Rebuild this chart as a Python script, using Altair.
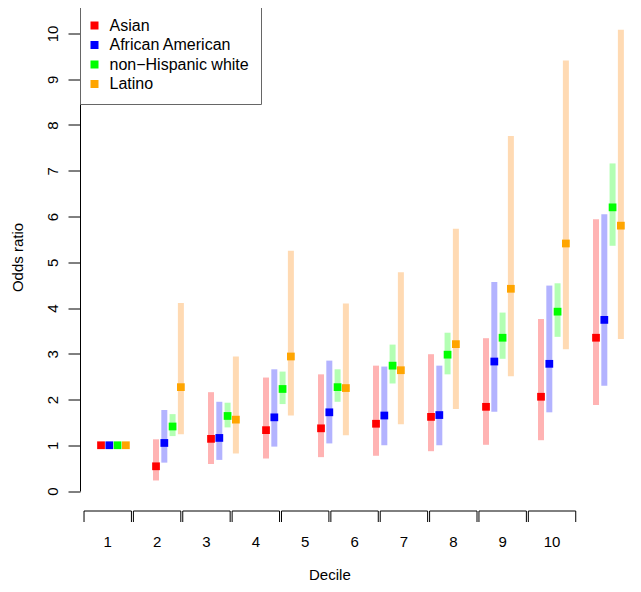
import altair as alt
import pandas as pd

deciles = list(range(1, 11))
groups = ["Asian", "African American", "non−Hispanic white", "Latino"]
point_colors = ["#FF0000", "#0000FF", "#00FF00", "#FFA500"]
band_colors = ["#FFB3B3", "#B3B3FF", "#B3FFB3", "#FFDAB3"]

asian_or = [1.00, 0.54, 1.14, 1.33, 1.37, 1.47, 1.62, 1.84, 2.06, 3.35]
asian_lo = [1.00, 0.23, 0.59, 0.71, 0.74, 0.77, 0.87, 1.01, 1.11, 1.88]
asian_hi = [1.00, 1.13, 2.16, 2.48, 2.55, 2.74, 2.99, 3.34, 3.76, 5.94]

afam_or = [1.00, 1.05, 1.16, 1.61, 1.72, 1.65, 1.66, 2.83, 2.78, 3.74]
afam_lo = [1.00, 0.62, 0.68, 0.97, 1.04, 1.00, 1.00, 1.73, 1.72, 2.30]
afam_hi = [1.00, 1.77, 1.95, 2.66, 2.85, 2.72, 2.74, 4.57, 4.49, 6.05]

white_or = [1.00, 1.41, 1.64, 2.23, 2.27, 2.74, 2.98, 3.35, 3.92, 6.20]
white_lo = [1.00, 1.20, 1.39, 1.90, 1.95, 2.35, 2.55, 2.89, 3.37, 5.36]
white_hi = [1.00, 1.68, 1.93, 2.61, 2.66, 3.20, 3.46, 3.90, 4.54, 7.16]

latino_or = [1.00, 2.27, 1.56, 2.94, 2.25, 2.64, 3.21, 4.42, 5.41, 5.80]
latino_lo = [1.00, 1.24, 0.82, 1.65, 1.22, 1.46, 1.79, 2.51, 3.10, 3.32]
latino_hi = [1.00, 4.11, 2.94, 5.25, 4.10, 4.78, 5.73, 7.76, 9.41, 10.08]

group_offset = [-0.226, -0.075, 0.075, 0.226]

y_ticks = list(range(0, 11))
x_labels = [str(d) for d in deciles]

bracket_start = 0.465
bracket_step = 0.8976
bracket_width = 0.862

FONT = "Liberation Sans"

rows = []
series = [
    (asian_or, asian_lo, asian_hi),
    (afam_or, afam_lo, afam_hi),
    (white_or, white_lo, white_hi),
    (latino_or, latino_lo, latino_hi),
]
for gi, (g, (ors, los, his)) in enumerate(zip(groups, series)):
    for d, o, lo, hi in zip(deciles, ors, los, his):
        rows.append(dict(decile=d, group=g, odds=o, lo=lo, hi=hi,
                         xpos=d + group_offset[gi], order=gi))
df = pd.DataFrame(rows)

lefts = [bracket_start + (d - 1) * bracket_step for d in deciles]
rights = [l + bracket_width for l in lefts]
br = pd.DataFrame({
    "label": x_labels,
    "left": lefts,
    "right": rights,
    "mid": [(l + r) / 2 for l, r in zip(lefts, rights)],
})
title_df = pd.DataFrame({"t": ["Decile"], "x": [(lefts[0] + rights[-1]) / 2]})

xscale = alt.Scale(domain=[0.3918, 10.301], nice=False, zero=False)
yscale = alt.Scale(domain=[0, 10], nice=False, zero=False)

yaxis = alt.Axis(
    values=y_ticks, labelAngle=270, labelAlign="center", labelBaseline="alphabetic",
    labelPadding=11, tickSize=12, tickColor="black", domainColor="black",
    labelColor="black", labelFontSize=15, labelFont=FONT, grid=False,
    labelFlush=False, labelOverlap=False,
    title="Odds ratio", titleFont=FONT, titleFontSize=15, titleFontWeight="normal",
    titleColor="black", titleAngle=270, titleX=-58, titleY=223.5,
    titleAlign="center", titleBaseline="alphabetic",
)

bands = alt.Chart(df).mark_rule(strokeWidth=6, strokeCap="butt").encode(
    x=alt.X("xpos:Q", scale=xscale, axis=None),
    y=alt.Y("lo:Q", scale=yscale, axis=yaxis),
    y2="hi:Q",
    color=alt.Color("group:N", scale=alt.Scale(domain=groups, range=band_colors), legend=None),
)

points = alt.Chart(df).mark_square(size=60, opacity=1).encode(
    x=alt.X("xpos:Q", scale=xscale, axis=None),
    y=alt.Y("odds:Q", scale=yscale),
    color=alt.Color(
        "group:N",
        scale=alt.Scale(domain=groups, range=point_colors),
        legend=alt.Legend(
            title=None, orient="none", legendX=0, legendY=-27.5,
            symbolType="square", symbolSize=64, symbolStrokeWidth=0, symbolOpacity=1,
            symbolOffset=-5,
            labelFontSize=16, labelFont=FONT, labelColor="black",
            padding=11.5, rowPadding=3.5, labelOffset=7,
            strokeColor="#666666", fillColor="white",
        ),
    ),
)

bracket_h = alt.Chart(br).mark_rule(color="black", strokeWidth=1).encode(
    x=alt.X("left:Q", scale=xscale, axis=None),
    x2="right:Q",
    y=alt.value(477.5),
)
bracket_l = alt.Chart(br).mark_rule(color="black", strokeWidth=1).encode(
    x=alt.X("left:Q", scale=xscale, axis=None),
    y=alt.value(477.5),
    y2=alt.value(488.5),
)
bracket_r = alt.Chart(br).mark_rule(color="black", strokeWidth=1).encode(
    x=alt.X("right:Q", scale=xscale, axis=None),
    y=alt.value(477.5),
    y2=alt.value(488.5),
)
labels = alt.Chart(br).mark_text(
    fontSize=15, font=FONT, baseline="alphabetic", align="center", color="black"
).encode(
    x=alt.X("mid:Q", scale=xscale, axis=None),
    y=alt.value(513),
    text="label:N",
)
xtitle = alt.Chart(title_df).mark_text(
    fontSize=15, font=FONT, baseline="alphabetic", align="center", color="black"
).encode(
    x=alt.X("x:Q", scale=xscale, axis=None),
    y=alt.value(546),
    text="t:N",
)

chart = alt.layer(
    bands, points, bracket_h, bracket_l, bracket_r, labels, xtitle
).resolve_scale(color="independent").properties(
    width=545,
    height=457.5,
    autosize=alt.AutoSizeParams(type="none"),
    padding={"left": 72, "top": 25.5, "right": 0, "bottom": 93},
).configure_view(strokeWidth=0)

chart.save("out.html", embed_options={"renderer": "svg", "actions": False})
